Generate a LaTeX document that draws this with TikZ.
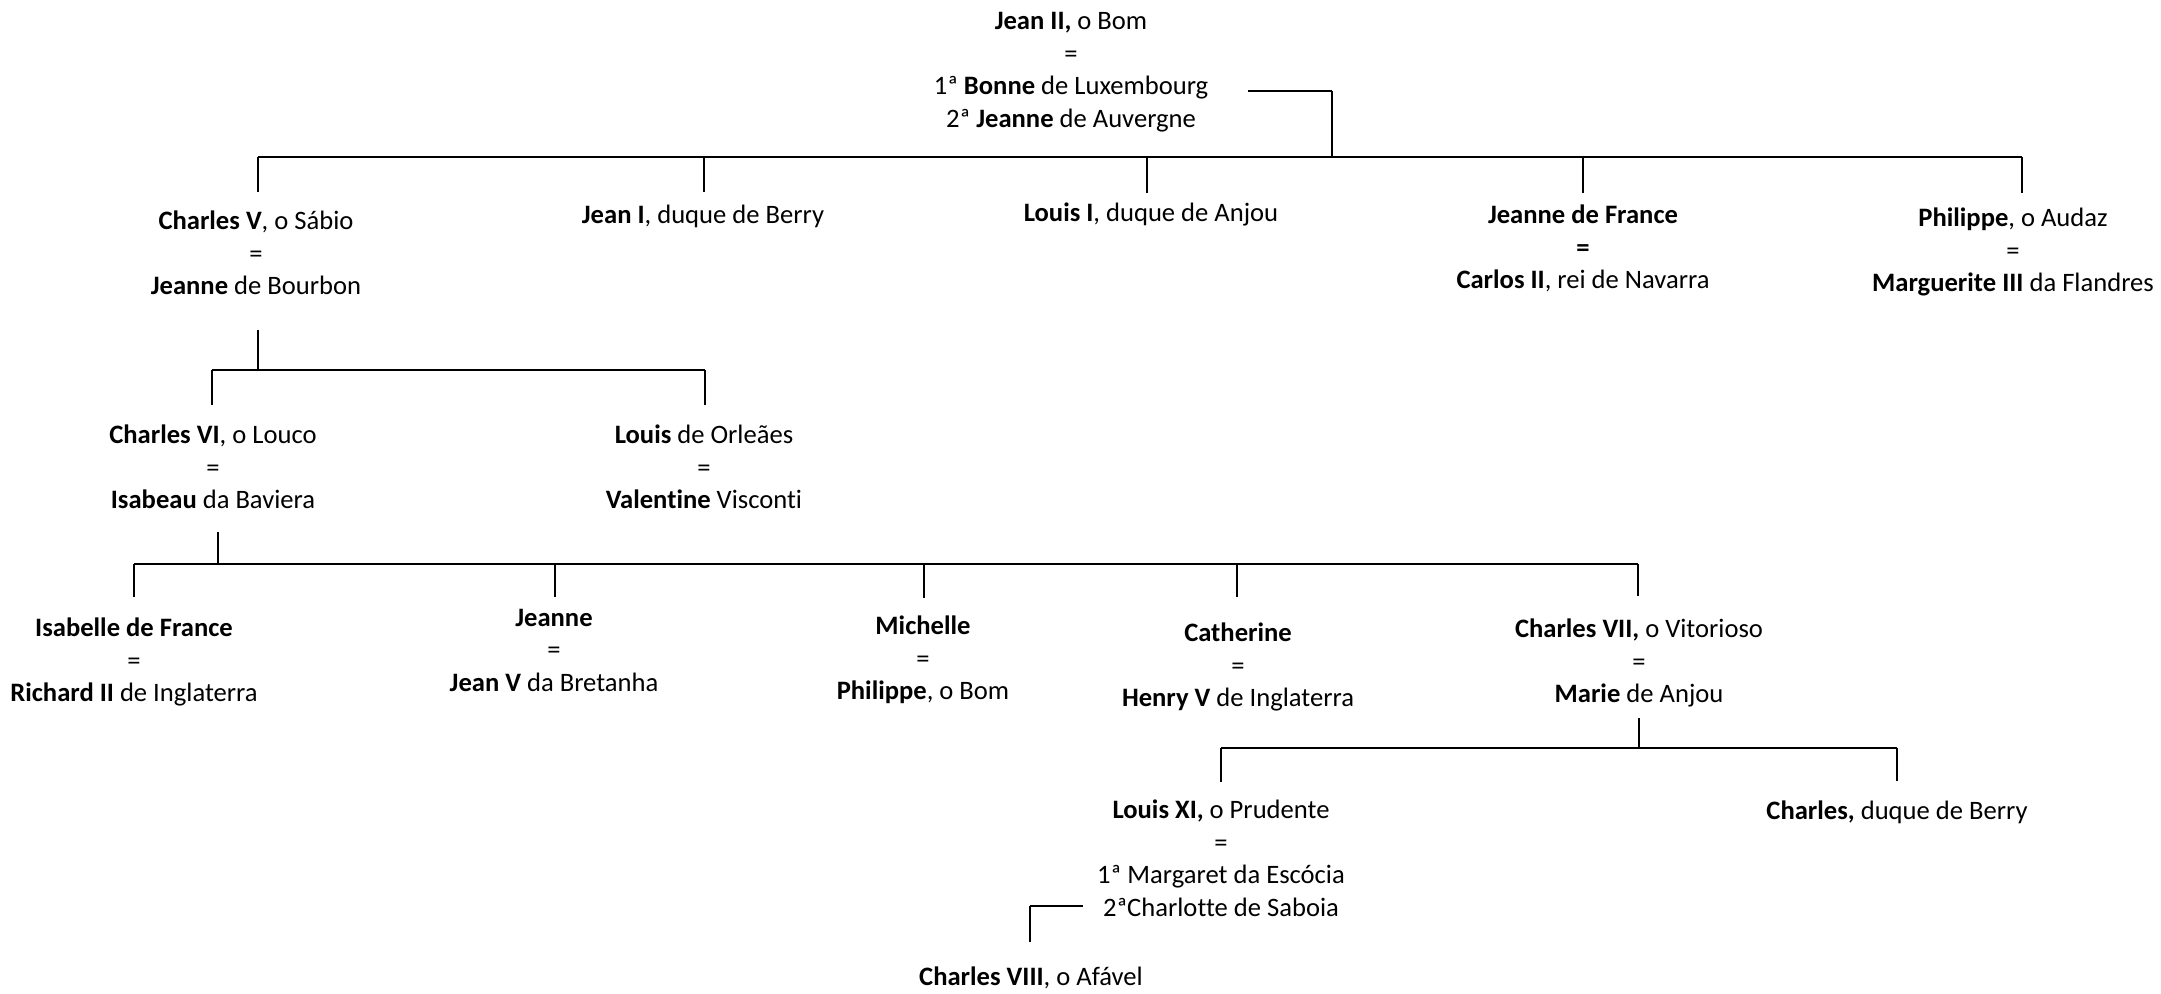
\documentclass[tikz,border=0pt]{standalone}
\usepackage{fontspec}
\setmainfont[Ligatures=NoCommon]{Carlito}
\begin{document}
\begin{tikzpicture}[x=0.5pt,y=-0.5pt,
  person/.style={align=center, inner sep=0pt, anchor=north,
    font=\fontsize{13.3}{16.25}\selectfont,
    execute at begin node={\rule{0pt}{10pt}}},
  bar/.style={line width=1.25pt},
  drop/.style={line width=1.15pt}]
\useasboundingbox (0,0) rectangle (2161,993);

% ---------- people ----------
\node[person] (jean2) at (1071,12) {\textbf{Jean II,} o Bom\\=\\1ª \textbf{Bonne} de Luxembourg\\2ª \textbf{Jeanne} de Auvergne};

\node[person] (cv) at (256,210.5) {\textbf{Charles V}, o Sábio\\=\\\textbf{Jeanne} de Bourbon};
\node[person] (j1) at (703,203.5) {\textbf{Jean I}, duque de Berry};
\node[person] (l1) at (1151,201) {\textbf{Louis I}, duque de Anjou};
\node[person] (jf) at (1583,204.5) {\textbf{Jeanne de France}\\\textbf{=}\\\textbf{Carlos II}, rei de Navarra};
\node[person] (ph) at (2013,207.5) {\textbf{Philippe}, o Audaz\\=\\\textbf{Marguerite III} da Flandres};

\node[person] (c6) at (213,424.5) {\textbf{Charles VI}, o Louco\\=\\\textbf{Isabeau} da Baviera};
\node[person] (lo) at (704,424.5) {\textbf{Louis} de Orleães\\=\\\textbf{Valentine} Visconti};

\node[person] (isf) at (134,617.5) {\textbf{Isabelle de France}\\=\\\textbf{Richard II} de Inglaterra};
\node[person] (jn) at (554,608.5) {\textbf{Jeanne}\\=\\\textbf{Jean V} da Bretanha};
\node[person] (mi) at (923,615.5) {\textbf{Michelle}\\=\\\textbf{Philippe}, o Bom};
\node[person] (ca) at (1238,622.5) {\textbf{Catherine}\\=\\\textbf{Henry V} de Inglaterra};
\node[person] (c7) at (1639,618.5) {\textbf{Charles VII,} o Vitorioso\\=\\\textbf{Marie} de Anjou};

\node[person] (l11) at (1221,799.5) {\textbf{Louis XI,} o Prudente\\=\\1ª Margaret da Escócia\\2ªCharlotte de Saboia};
\node[person] (cb) at (1897,799.5) {\textbf{Charles,} duque de Berry};

\node[person] (c8) at (1031,965.5) {\textbf{Charles VIII}, o Afável};

% ---------- coordinates ----------
% Jean II family
\coordinate (jA) at (1248,91);
\coordinate (jB) at (1332,91);
\coordinate (jC) at (1332,157);
\coordinate (b1L) at (258,157);
\coordinate (b1R) at (2022,157);
\coordinate (b1j1) at (704,157);
\coordinate (b1l1) at (1147,157);
\coordinate (b1jf) at (1583,157);
\coordinate (cvT) at (258,192);
\coordinate (j1T) at (704,192);
\coordinate (l1T) at (1147,193);
\coordinate (jfT) at (1583,193);
\coordinate (phT) at (2022,193);
% Charles V family
\coordinate (cvB) at (258,330);
\coordinate (b2m) at (258,370);
\coordinate (b2L) at (212,370);
\coordinate (b2R) at (705,370);
\coordinate (c6T) at (212,405);
\coordinate (loT) at (705,405);
% Charles VI family
\coordinate (c6B) at (218,532);
\coordinate (b3m) at (218,564);
\coordinate (b3L) at (134,564);
\coordinate (b3R) at (1638,564);
\coordinate (b3jn) at (555,564);
\coordinate (b3mi) at (924,564);
\coordinate (b3ca) at (1237,564);
\coordinate (isfT) at (134,597);
\coordinate (jnT) at (555,597);
\coordinate (miT) at (924,598);
\coordinate (caT) at (1237,597);
\coordinate (c7T) at (1638,596);
% Charles VII family
\coordinate (c7B) at (1639,718);
\coordinate (b4m) at (1639,748);
\coordinate (b4L) at (1221,748);
\coordinate (b4R) at (1897,748);
\coordinate (l11T) at (1221,782);
\coordinate (cbT) at (1897,781);
% Louis XI
\coordinate (lA) at (1083,906);
\coordinate (lB) at (1030,906);
\coordinate (c8T) at (1030,942);

% ---------- connectors ----------
\draw[bar] (jA) -- (jB);
\draw[drop] (jB) -- (jC);
\draw[bar] (b1L) -- (b1R);
\draw[drop] (b1L) -- (cvT);
\draw[drop] (b1j1) -- (j1T);
\draw[drop] (b1l1) -- (l1T);
\draw[drop] (b1jf) -- (jfT);
\draw[drop] (b1R) -- (phT);

\draw[drop] (cvB) -- (b2m);
\draw[bar] (b2L) -- (b2R);
\draw[drop] (b2L) -- (c6T);
\draw[drop] (b2R) -- (loT);

\draw[drop] (c6B) -- (b3m);
\draw[bar] (b3L) -- (b3R);
\draw[drop] (b3L) -- (isfT);
\draw[drop] (b3jn) -- (jnT);
\draw[drop] (b3mi) -- (miT);
\draw[drop] (b3ca) -- (caT);
\draw[drop] (b3R) -- (c7T);

\draw[drop] (c7B) -- (b4m);
\draw[bar] (b4L) -- (b4R);
\draw[drop] (b4L) -- (l11T);
\draw[drop] (b4R) -- (cbT);

\draw[bar] (lA) -- (lB);
\draw[drop] (lB) -- (c8T);
\end{tikzpicture}
\end{document}
